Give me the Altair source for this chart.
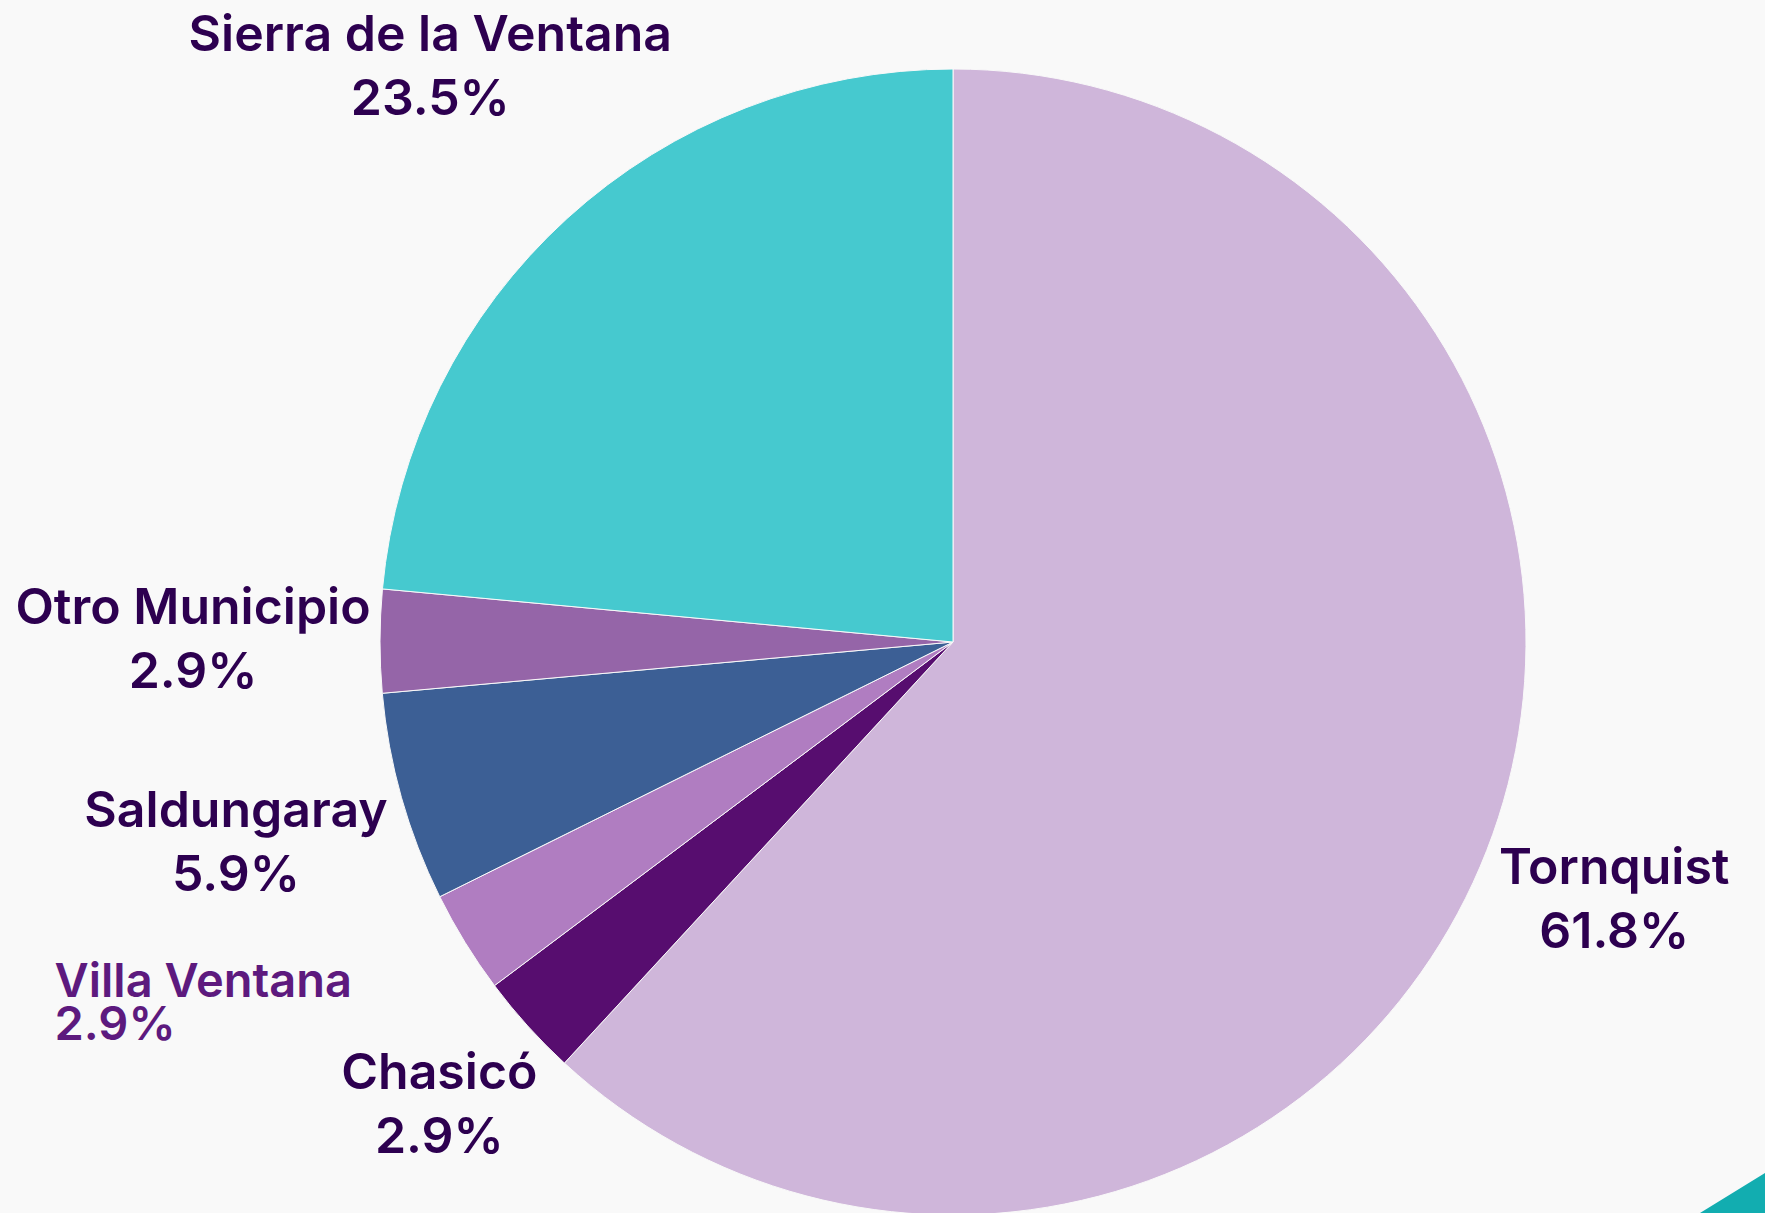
import altair as alt
import pandas as pd

# ---- data ----
names = ["Tornquist", "Chasicó", "Villa Ventana", "Saldungaray", "Otro Municipio", "Sierra de la Ventana"]
pct = [61.8, 2.9, 2.9, 5.9, 2.9, 23.5]
colors = ["#CFB6DA", "#570D6F", "#B07DC1", "#3C5F95", "#9565A8", "#46C9CF"]

# ---- layout (label distance from the pie centre, px) ----
label_radius = [710, 692, 0, 745, 760, 776]

df = pd.DataFrame({
    "name": names,
    "pct": pct,
    "order": list(range(len(names))),
    "lr": label_radius,
})
df["main_label"] = [
    "" if n == "Villa Ventana" else f"{n}\n{p:.1f}%" for n, p in zip(names, pct)
]
df["villa_label"] = [
    f"{n}\n{p:.1f}%" if n == "Villa Ventana" else "" for n, p in zip(names, pct)
]

CX, CY, R = 953, 642, 573
FONT = "Inter"

base = alt.Chart(df).encode(x=alt.value(CX), y=alt.value(CY))

pie = base.mark_arc(outerRadius=R, stroke="#F9F9F9", strokeWidth=1).encode(
    theta=alt.Theta("pct:Q", stack=True),
    order=alt.Order("order:Q"),
    color=alt.Color("name:N", scale=alt.Scale(domain=names, range=colors), legend=None),
)

text_base = base.transform_window(
    cum="sum(pct)", sort=[alt.SortField("order")], frame=[None, 0]
).transform_calculate(
    mid="datum.cum - datum.pct / 2"
)

labels = text_base.mark_text(
    font=FONT, fontSize=50, fontWeight=600, color="#2D0050",
    lineBreak="\n", lineHeight=64, align="center", baseline="middle", dy=-32,
).encode(
    theta=alt.Theta("mid:Q", stack=False),
    text="main_label:N",
    radius=alt.Radius("lr:Q", scale=None),
)

villa = text_base.mark_text(
    font=FONT, fontSize=47, fontWeight=600, color="#5D1A7E",
    lineBreak="\n", lineHeight=43, align="left", baseline="middle",
    radius=684, dx=-316, dy=-18,
).encode(
    theta=alt.Theta("mid:Q", stack=False),
    text="villa_label:N",
)

corner = alt.Chart(pd.DataFrame({"k": [0]})).mark_point(
    shape="M1,-0.23 L1,1 L-1,1 Z", size=4225, filled=True, opacity=1,
    color="#12ADB0", strokeWidth=0,
).encode(x=alt.value(1732.5), y=alt.value(1180.5))

chart = alt.layer(pie, labels, villa, corner).properties(
    width=1765, height=1213, autosize=alt.AutoSizeParams(type="none"), padding=0,
    background="#F9F9F9",
).configure_view(stroke=None)

chart.save("out.html", embed_options={"renderer": "svg", "actions": False})
